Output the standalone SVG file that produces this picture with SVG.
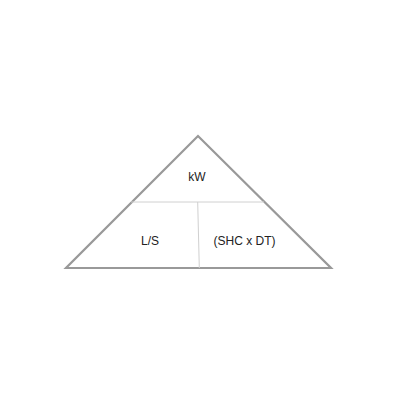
<svg xmlns="http://www.w3.org/2000/svg" width="400" height="400" viewBox="0 0 400 400">
<style>
.lbl{font-family:"Liberation Sans",Arial,sans-serif;font-size:12px;fill:#222;text-anchor:middle}
.div{stroke:#d0d0d0;stroke-width:1;fill:none}
</style>
<rect width="400" height="400" fill="#fff"/>
<g id="triangle">
<polygon points="198,136 66,268 331,268" fill="#fff" stroke="#999" stroke-width="2.2" stroke-linejoin="miter"/>
</g>
<g id="connectors">
<line class="div" x1="131" y1="202" x2="264" y2="202"/>
<line class="div" x1="197.7" y1="202" x2="199.3" y2="268"/>
</g>
<g id="node-kw"><text class="lbl" x="197" y="180.5">kW</text></g>
<g id="node-ls"><text class="lbl" x="150" y="244.5">L/S</text></g>
<g id="node-shc"><text class="lbl" x="244.5" y="244.5">(SHC x DT)</text></g>
</svg>
